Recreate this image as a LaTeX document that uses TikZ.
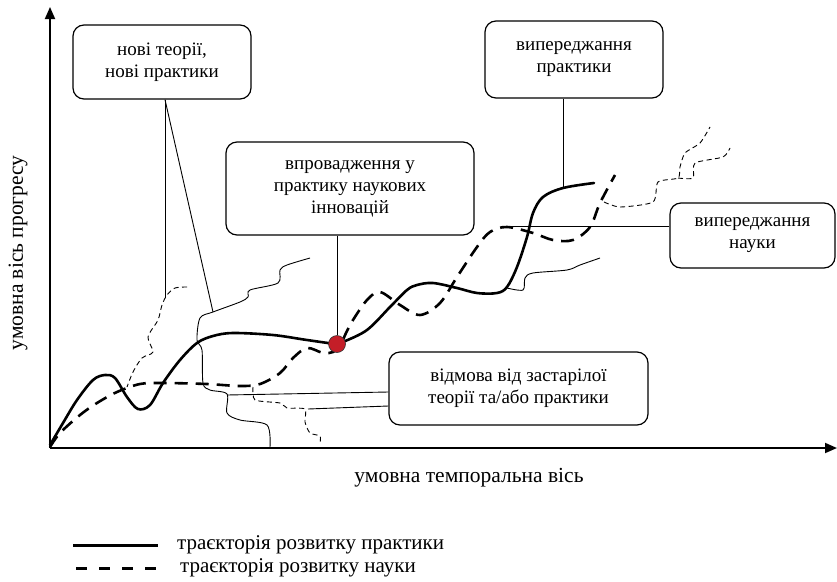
\documentclass[tikz,border=0pt]{standalone}
\usepackage{fontspec}
\setmainfont{Liberation Serif}
\usetikzlibrary{arrows.meta,calc}
\definecolor{dotred}{RGB}{196,30,40}
\begin{document}
\begin{tikzpicture}[x=1pt,y=-1pt,
  box/.style={draw=black,line width=1.2pt,rounded corners=11pt,align=center,
     font=\fontsize{19}{22}\selectfont,inner sep=0pt},
  lbl/.style={font=\fontsize{21.5}{24}\selectfont},
  leg/.style={font=\fontsize{21}{24}\selectfont,anchor=west,inner sep=0pt},
  thin/.style={line width=0.9pt},
  thindash/.style={line width=0.9pt,dash pattern=on 5pt off 3.5pt},
  practice/.style={line width=2.6pt,line cap=round},
  science/.style={line width=2.6pt,dash pattern=on 13pt off 8pt},
  axis/.style={line width=1.8pt,-{Triangle[length=12pt,width=10pt]}}]
\useasboundingbox (0,0) rectangle (837,581);

% axes
\coordinate (O) at (50,448);
\coordinate (Ytop) at (50,7);
\coordinate (Xend) at (837,448);
\draw[axis] (O) -- (Ytop);
\draw[axis] (O) -- (Xend);
\node[lbl,rotate=90] (ylab) at (18,253) {умовна вісь прогресу};
\node[lbl] (xlab) at (469,478) {умовна темпоральна вісь};

% boxes
\node[box,minimum width=178pt,minimum height=74pt] (b1) at (162,62) {нові теорії,\\нові практики};
\node[box,minimum width=248pt,minimum height=93pt] (b2) at (350,188.5) {впровадження у\\практику наукових\\інновацій};
\node[box,minimum width=178pt,minimum height=77pt] (b3) at (574,59.5) {випереджання\\практики};
\node[box,minimum width=165pt,minimum height=65pt] (b4) at (752.5,235.5) {випереджання\\науки};
\node[box,minimum width=259pt,minimum height=73pt] (b5) at (518.5,388.5) {відмова від застарілої\\теорії та/або практики};

% thin wavy lines
\draw[thin] plot[smooth,tension=0.5] coordinates {(310,258) (287,265) (280,270) (278,283) (250,290) (248,297) (240,302) (213,312) (200,318) (197,340) (202,350) (203,383) (210,390) (227,394) (227,413) (240,420) (267,425) (270,447)};
\draw[thin] plot[smooth,tension=0.5] coordinates {(507,288) (523,290) (525,278) (533,273) (567,270) (580,265) (600,258)};
\draw[thindash] plot[smooth,tension=0.5] coordinates {(187,287) (175,288) (167,295) (162,305) (158,320) (148,337) (153,352) (142,358) (133,372) (127,387)};
\draw[thindash] plot[smooth,tension=0.4] coordinates {(253,387) (255,400) (280,403) (287,408) (305,409) (305,422) (310,433) (320,436) (320,443)};
\draw[thindash] plot[smooth,tension=0.4] coordinates {(604,202) (620,207) (653,202) (658,182) (678,178) (680,167) (685,153) (700,143) (710,127)};
\draw[thindash] plot[smooth,tension=0.4] coordinates {(678,178) (693,178) (695,163) (723,157) (730,148)};

% trajectories
\draw[science] plot[smooth,tension=0.55] coordinates {(50,447) (60,433) (80,415) (97,403) (117,392) (140,384) (163,383) (207,384) (240,386) (260,384) (280,373) (293,358) (307,348) (323,353) (333,352) (340,346) (346,333) (353,320) (367,300) (380,292) (400,305) (420,315) (440,303) (457,277) (477,247) (490,232) (507,227) (533,233) (553,240) (573,240) (590,227) (600,203) (615,175)};
\draw[practice] plot[smooth,tension=0.55] coordinates {(50,445) (63,423) (77,400) (93,380) (105,375) (115,378) (127,397) (138,409) (150,405) (163,383) (180,360) (197,343) (213,336) (233,333) (273,335) (307,340) (337,344) (343,342) (367,330) (390,307) (407,290) (417,285) (433,283) (457,288) (477,293) (497,293) (507,287) (517,267) (527,237) (533,213) (543,197) (563,188) (594,183)};

% marker
\node[circle,fill=dotred,draw=black!80,line width=0.6pt,minimum size=17pt,inner sep=0pt] (dot) at (337,344) {};

% connectors
\coordinate (n1) at (165,298);
\coordinate (n2) at (213,312);
\coordinate (p3) at (563,189);
\coordinate (s4) at (507,226);
\coordinate (l5a) at (227,395);
\coordinate (l5b) at (308,409);
\draw[thin] (n1 |- b1.south) -- (n1);
\draw[thin] (n1 |- b1.south) -- (n2);
\draw[thin] (dot |- b2.south) -- (dot.north);
\draw[thin] (p3 |- b3.south) -- (p3);
\draw[thin] (b4.west |- s4) -- (s4);
\draw[thin] (l5a) -- ($(b5.west)+(0,3.5)$);
\draw[thin] (l5b) -- ($(b5.west)+(0,17.5)$);

% legend
\coordinate (la1) at (73,545);
\coordinate (la2) at (158,545);
\coordinate (lb1) at (76,568);
\coordinate (lb2) at (156,568);
\draw[line width=3pt] (la1) -- (la2);
\draw[line width=3pt,dash pattern=on 11pt off 12pt] (lb1) -- (lb2);
\node[leg] (leg1) at (177,545) {траєкторія розвитку практики};
\node[leg] (leg2) at (180,568) {траєкторія розвитку науки};
\end{tikzpicture}
\end{document}
